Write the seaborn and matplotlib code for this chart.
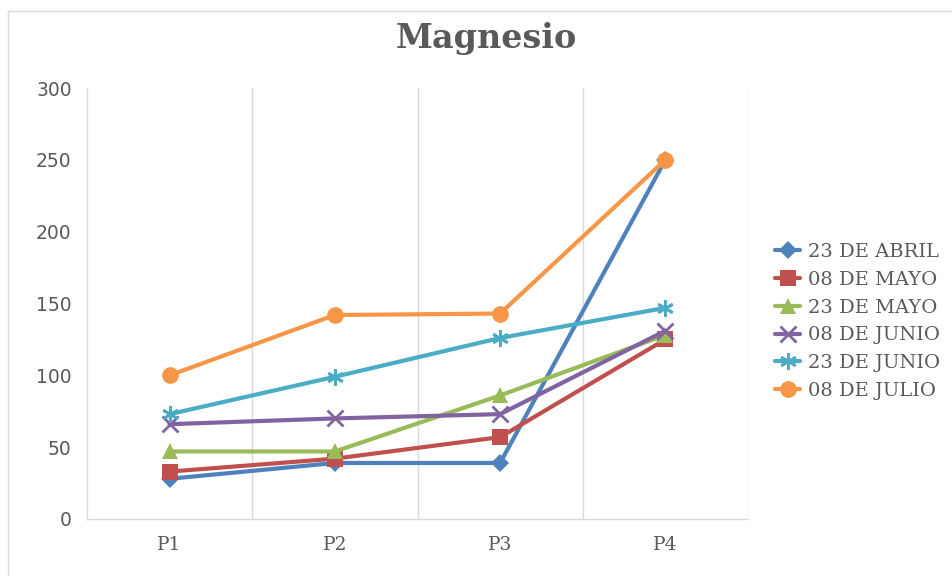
import pandas as pd
import matplotlib
matplotlib.use("Agg")
import matplotlib.pyplot as plt
from matplotlib.lines import Line2D
import seaborn as sns

# Datos
puntos = ["P1", "P2", "P3", "P4"]
series = ["23 DE ABRIL", "08 DE MAYO", "23 DE MAYO", "08 DE JUNIO", "23 DE JUNIO", "08 DE JULIO"]
abril_23 = [28, 39, 39, 250]
mayo_08 = [33, 42, 57, 125]
mayo_23 = [47, 47, 86, 128]
junio_08 = [66, 70, 73, 131]
junio_23 = [73, 99, 126, 147]
julio_08 = [100, 142, 143, 250]

valores = [abril_23, mayo_08, mayo_23, junio_08, junio_23, julio_08]
colores = ["#4F81BD", "#C0504D", "#9BBB59", "#8064A2", "#4BACC6", "#F79646"]
marcadores = ["D", "s", "^", "x", (6, 2, 0), "o"]
tamanos = [9, 11, 11, 11, 12, 12]
gris = "#595959"

sns.set_style("white")
plt.rcParams["font.family"] = ["DejaVu Serif"]

fig = plt.figure(figsize=(9.52, 5.76), dpi=100)
ax = fig.add_axes([87 / 952, 57 / 576, (748 - 87) / 952, (519 - 88) / 576])

for nombre, vals, c, m, ms in zip(series, valores, colores, marcadores, tamanos):
    df = pd.DataFrame({"x": range(len(puntos)), "y": vals})
    sns.lineplot(data=df, x="x", y="y", ax=ax, color=c, marker=m, markersize=ms,
                 linewidth=3, markeredgewidth=2 if m in ("x", (6, 2, 0)) else 0,
                 markeredgecolor=c, label=nombre, zorder=3)

ax.set_xlim(-0.5, 3.5)
ax.set_ylim(0, 300)
ax.set_yticks(range(0, 301, 50))
ax.set_xticks(range(len(puntos)))
ax.set_xticklabels(puntos)
ax.set_xlabel("")
ax.set_ylabel("")
for xv in [0.5, 1.5, 2.5, 3.5]:
    ax.axvline(xv, color="#d9d9d9", linewidth=1, zorder=1)
for s in ["top", "right"]:
    ax.spines[s].set_visible(False)
for s in ["left", "bottom"]:
    ax.spines[s].set_color("#d9d9d9")
    ax.spines[s].set_linewidth(1)
ax.tick_params(axis="both", length=0, labelsize=13.5, colors=gris)
ax.tick_params(axis="y", pad=11)
ax.tick_params(axis="x", pad=12)
for t in ax.get_yticklabels():
    t.set_family("DejaVu Sans")

ax.legend(loc="center left", bbox_to_anchor=(1.041, 0.458), frameon=False,
          fontsize=14, labelcolor=gris, handlelength=1.3, handletextpad=0.4,
          labelspacing=0.5, borderpad=0, borderaxespad=0)

fig.text(0.5105, 1 - 48 / 576, "Magnesio", ha="center", va="baseline", fontsize=24,
         fontweight="bold", color=gris)

# marco del gráfico
fig.add_artist(Line2D([8 / 952, 8 / 952], [0, 1 - 11 / 576], transform=fig.transFigure,
                      color="#d9d9d9", linewidth=1))
fig.add_artist(Line2D([8 / 952, 1], [1 - 11 / 576, 1 - 11 / 576], transform=fig.transFigure,
                      color="#d9d9d9", linewidth=1))

fig.savefig("out.png", dpi=100)
